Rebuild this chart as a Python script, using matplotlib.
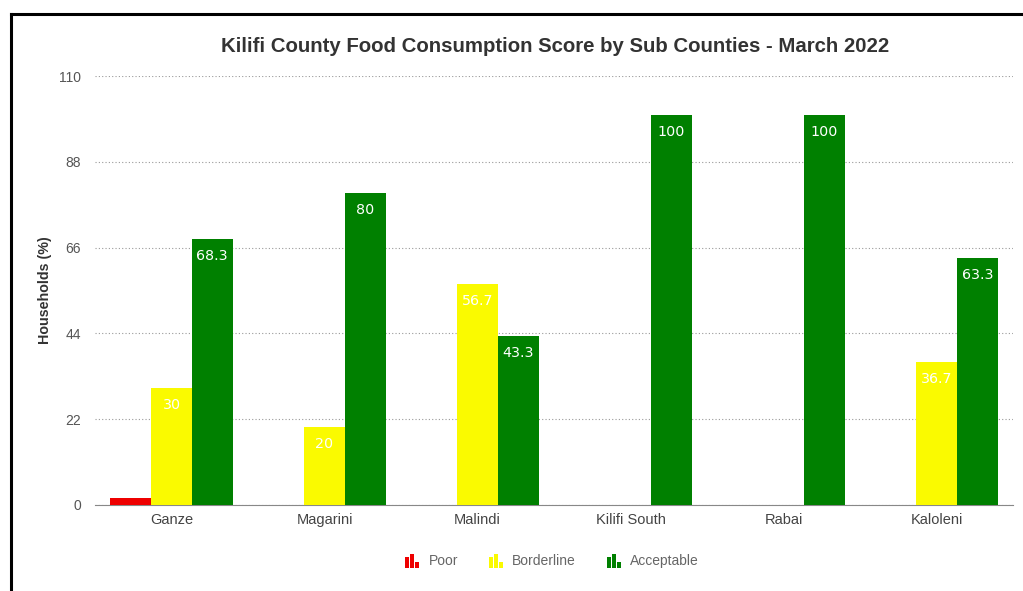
import numpy as np
import matplotlib.pyplot as plt
from matplotlib.patches import Rectangle
from matplotlib.legend_handler import HandlerBase
from matplotlib.lines import Line2D

plt.rcParams['font.family'] = 'Liberation Sans'

counties = ['Ganze', 'Magarini', 'Malindi', 'Kilifi South', 'Rabai', 'Kaloleni']
poor = [1.7, 0, 0, 0, 0, 0]
borderline = [30, 20, 56.7, 0, 0, 36.7]
acceptable = [68.3, 80, 43.3, 100, 100, 63.3]

series = ['Poor', 'Borderline', 'Acceptable']
colors = ['#ee0000', '#fafa00', '#008000']
yticks = [0, 22, 44, 66, 88, 110]


# small bar-chart icon for the legend entries
class BarIconHandler(HandlerBase):
    def create_artists(self, legend, orig_handle, xdescent, ydescent,
                       width, height, fontsize, trans):
        c = orig_handle.get_color()
        w = width / 3.6
        hs = [0.75, 1.0, 0.4]
        arts = []
        for i, h in enumerate(hs):
            r = Rectangle((-xdescent + i * w * 1.2, -ydescent - height * 0.15),
                          w, height * 1.2 * h, facecolor=c, edgecolor='none',
                          transform=trans)
            arts.append(r)
        return arts


fig = plt.figure(figsize=(10.23, 5.91), dpi=100)
ax = fig.add_axes([95 / 1023, 1 - 505 / 591, 918 / 1023, 429 / 591])

x = np.arange(len(counties))
bw = 0.8 / 3
data = [poor, borderline, acceptable]
for k, (vals, col) in enumerate(zip(data, colors)):
    pos = x + (k - 1) * bw
    ax.bar(pos, vals, width=bw, color=col, zorder=3)
    if k == 0:
        continue
    for xi, v in zip(pos, vals):
        if v > 0:
            ax.annotate(f'{v:g}', (xi, v), xytext=(0, -12.5), textcoords='offset points',
                        ha='center', va='center', color='white', fontsize=10.3,
                        family='DejaVu Sans', zorder=4)

ax.set_xlim(-0.5, len(counties) - 0.5)
ax.set_ylim(0, 110)
ax.set_yticks(yticks)
ax.set_xticks(x)
ax.set_xticklabels(counties)
ax.grid(axis='y', linestyle=(0, (1, 2)), color='#999999', linewidth=0.8, zorder=0)
for s in ['top', 'right', 'left']:
    ax.spines[s].set_visible(False)
ax.spines['bottom'].set_color('#888888')
ax.tick_params(axis='y', length=0, pad=10, labelsize=10, labelcolor='#555555')
ax.tick_params(axis='x', length=0, pad=6, labelsize=10.5, labelcolor='#444444')

ax.set_ylabel('Households (%)', fontsize=10.3, fontweight='bold', color='#333333')
ax.yaxis.set_label_coords(-0.047, 0.5)

fig.text(555 / 1023, 1 - 47 / 591, 'Kilifi County Food Consumption Score by Sub Counties - March 2022',
         ha='center', va='center', fontsize=14.7, fontweight='bold', color='#333333')

handles = [Line2D([], [], color=c) for c in colors]
leg = fig.legend(handles, series, loc='center', bbox_to_anchor=(552 / 1023, 1 - 561 / 591),
                 ncol=3, frameon=False, fontsize=10, handler_map={Line2D: BarIconHandler()},
                 handlelength=1.1, handleheight=0.9, columnspacing=2.2, handletextpad=0.6)
for t in leg.get_texts():
    t.set_color('#666666')

# frame lines along the left and top
fig.add_artist(Line2D([11 / 1023, 11 / 1023], [0, 1 - 14 / 591], color='black', linewidth=2.2))
fig.add_artist(Line2D([11 / 1023, 1], [1 - 14 / 591, 1 - 14 / 591], color='black', linewidth=2.2))

fig.savefig('out.png', dpi=100, facecolor='white')
